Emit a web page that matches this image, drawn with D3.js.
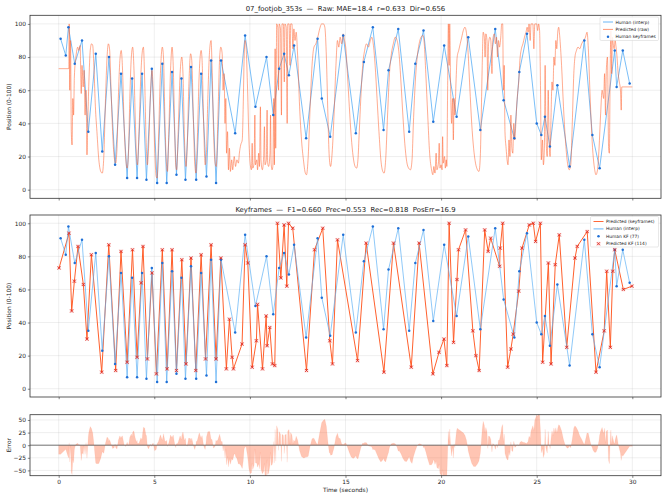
<!DOCTYPE html>
<html><head><meta charset="utf-8">
<script src="https://cdn.jsdelivr.net/npm/d3@7"></script>
<style>body{margin:0;background:#fff} text{font-family:"DejaVu Sans",sans-serif}</style>
</head><body><svg id="c" width="666" height="500"></svg>
<script>
// ---------------- DATA ----------------
const chartTitle = "07_footjob_353s  —  Raw: MAE=18.4  r=0.633  Dir=0.656";
const kfTitle = "Keyframes  —  F1=0.660  Prec=0.553  Rec=0.818  PosErr=16.9";
const xTicks = [0,5,10,15,20,25,30];
const posTicks = [0,20,40,60,80,100];
const errTicks = [-50,-25,0,25,50];

const humanT = [0.10,0.37,0.51,0.84,1.22,1.55,1.94,2.28,2.63,2.95,3.26,3.58,3.84,4.10,4.36,4.59,4.87,5.15,5.42,5.65,5.93,6.16,6.42,6.63,6.92,7.19,7.45,7.73,7.97,8.23,8.49,9.23,9.75,10.29,10.87,11.22,11.53,11.79,12.04,12.31,12.94,13.54,13.76,14.20,14.88,15.54,15.96,16.43,16.99,17.25,17.76,18.33,18.65,19.08,19.59,20.16,20.81,21.42,22.05,22.83,23.27,23.83,24.09,24.49,25.00,25.24,25.43,25.69,26.08,26.72,27.49,27.91,28.29,29.08,29.18,29.50,29.86];
const humanV = [91,81,98,76,90,35,82,23,80,15,70,7,67,7,70,6,73,4,76,4,71,9,67,6,74,6,70,8,78,4,78,34,93,50,80,45,73,82,69,87,31,91,55,32,93,34,77,98,36,72,97,35,76,96,41,87,44,92,36,97,54,31,71,94,40,33,44,26,63,14,90,33,13,84,62,84,64];

const predT = [0.02,0.54,0.68,0.82,1.01,1.29,1.48,1.71,2.25,2.62,2.98,3.26,3.58,3.86,4.10,4.31,4.41,4.64,4.88,5.11,5.42,5.67,5.93,6.16,6.44,6.66,6.92,7.17,7.45,7.68,7.97,8.23,8.48,8.77,8.93,9.07,9.14,9.59,9.75,9.89,10.12,10.34,10.40,10.66,10.85,10.90,11.04,11.18,11.30,11.44,11.62,11.79,11.93,12.02,12.24,12.96,13.38,13.81,14.18,14.32,14.58,15.63,16.08,17.01,17.51,18.44,18.85,19.57,19.89,20.15,20.30,20.42,20.65,20.83,20.91,21.28,21.66,21.82,21.99,22.28,22.46,22.59,23.06,23.09,23.22,23.48,23.65,23.77,24.06,24.23,24.61,24.82,24.94,25.19,25.31,25.61,25.75,25.97,26.18,26.57,27.00,27.12,27.64,28.10,28.53,28.66,28.85,28.98,29.08,29.53,29.98];
const predV = [73,94,47,65,86,63,30,81,10,87,11,83,16,84,19,64,86,18,70,9,84,12,84,11,78,15,79,11,81,18,87,18,79,12,42,19,12,27,87,76,13,29,51,12,44,26,37,15,14,100,67,99,62,100,97,11,84,97,29,15,90,17,88,10,88,13,88,9,22,30,14,100,28,66,84,96,35,20,11,96,83,91,74,85,100,13,24,33,59,85,99,100,89,100,16,76,15,75,93,25,79,86,95,10,35,71,25,71,84,60,62];

// raw model output [time, position]
const rawPoints = [
[0,73],[0.53,73],[0.55,100],[0.58,60],[0.62,90],[0.66,35],[0.70,27],[0.74,55],[0.78,45],[0.82,68],[0.90,80],[1.0,86],
[1.05,84],[1.12,87],[1.18,58],[1.22,75],[1.28,62],[1.33,72],[1.38,45],[1.43,60],[1.48,21],[1.52,40],[1.58,65],[1.65,84],[1.72,88],[1.78,87],[1.85,72],[1.92,50],
[2.0,35],[2.1,18],[2.2,11],[2.28,10],[2.36,20],[2.45,55],[2.53,80],[2.6,88],[2.66,85],[2.74,60],[2.82,35],[2.9,20],[2.98,16],
[3.05,25],[3.12,55],[3.2,78],[3.27,84],[3.33,75],[3.42,40],[3.5,20],[3.58,13],[3.65,22],[3.72,55],[3.8,80],[3.87,86],[3.93,75],
[4.0,45],[4.07,20],[4.12,15],[4.2,35],[4.3,70],[4.38,84],[4.43,86],[4.5,65],[4.57,30],[4.64,15],[4.7,25],[4.8,58],[4.88,72],[4.94,60],
[5.02,25],[5.1,8],[5.15,7],[5.22,30],[5.32,70],[5.42,86],[5.48,80],[5.56,40],[5.64,15],[5.69,11],[5.76,35],[5.85,72],[5.93,86],[5.99,75],
[6.06,40],[6.12,15],[6.17,12],[6.25,35],[6.35,70],[6.44,80],[6.5,70],[6.58,30],[6.66,14],[6.72,25],[6.8,60],[6.9,82],[6.96,78],
[7.05,40],[7.12,15],[7.18,10],[7.25,30],[7.35,70],[7.45,84],[7.5,78],[7.58,40],[7.66,15],[7.72,20],[7.8,55],[7.9,85],[7.97,90],[8.02,75],
[8.1,35],[8.18,16],[8.24,14],[8.32,40],[8.42,80],[8.48,86],[8.55,82],[8.6,60],[8.65,70],[8.7,40],[8.74,55],[8.78,22],[8.83,35],[8.88,12],[8.93,25],[8.98,11],
[9.05,18],[9.1,12],[9.18,20],[9.25,14],[9.32,18],[9.4,16],[9.45,22],[9.52,27],[9.6,30],[9.65,50],[9.7,80],[9.75,90],[9.8,86],[9.88,60],[9.95,30],
[10.02,15],[10.08,12],[10.12,28],[10.15,13],[10.22,16],[10.26,45],[10.29,15],[10.36,18],[10.4,12],[10.46,22],[10.5,14],[10.55,50],[10.58,18],[10.65,12],[10.72,20],[10.76,38],[10.79,15],[10.86,18],[10.9,48],[10.93,16],[10.98,14],
[11.05,22],[11.08,45],[11.11,16],[11.16,12],[11.2,14],[11.25,55],[11.28,15],[11.32,85],[11.35,25],[11.38,70],
[11.4,100],[11.46,98],[11.5,60],[11.53,100],[11.6,97],[11.65,45],[11.68,100],[11.75,100],[11.8,65],[11.83,100],[11.9,98],[11.95,40],[11.98,100],[12.05,100],[12.1,75],[12.13,100],[12.2,100],[12.25,85],[12.3,97],[12.36,90],[12.42,95],
[12.5,80],[12.6,50],[12.7,30],[12.8,18],[12.9,10],[12.96,9],[13.05,20],[13.15,50],[13.25,75],[13.35,86],[13.45,88],[13.55,92],[13.65,97],[13.75,100],[13.85,100],[13.92,98],[14.0,80],[14.08,45],[14.15,20],[14.22,14],
[14.3,22],[14.4,45],[14.5,75],[14.58,90],[14.65,86],[14.72,92],[14.8,88],[14.88,94],[14.95,90],[15.02,85],[15.1,70],[15.2,50],[15.3,32],[15.4,20],[15.5,14],[15.58,13],[15.65,18],[15.72,35],[15.8,55],[15.9,75],[16.0,84],[16.1,88],
[16.2,86],[16.3,90],[16.38,92],[16.45,88],[16.55,75],[16.65,55],[16.75,35],[16.85,18],[16.95,11],[17.02,10],[17.1,18],[17.2,45],[17.3,70],[17.4,82],[17.5,88],
[17.6,92],[17.7,90],[17.8,82],[17.9,65],[18.0,45],[18.1,28],[18.2,17],[18.3,13],[18.4,12],[18.48,18],[18.55,40],[18.65,65],[18.75,80],[18.85,88],[18.95,92],[19.05,93],[19.12,88],[19.2,70],
[19.3,45],[19.4,22],[19.5,12],[19.57,9],[19.62,14],[19.68,10],[19.74,22],[19.78,12],[19.86,16],[19.9,28],[19.94,13],[20.0,15],[20.05,12],[20.08,32],[20.11,16],[20.18,20],[20.22,13],[20.27,18],[20.3,14],
[20.34,60],[20.38,100],[20.42,75],[20.45,100],[20.5,60],[20.55,40],[20.6,55],[20.64,30],[20.68,55],[20.72,45],[20.78,65],[20.84,80],[20.92,84],[21.0,88],[21.08,92],[21.16,96],[21.25,98],[21.32,95],
[21.4,85],[21.5,62],[21.6,40],[21.7,25],[21.8,16],[21.9,12],[21.98,11],[22.05,20],
[22.1,45],[22.15,75],[22.2,95],[22.26,92],[22.3,80],[22.34,94],[22.4,90],[22.44,60],[22.48,88],[22.55,92],[22.6,90],[22.66,70],[22.7,90],[22.78,94],[22.84,88],[22.9,92],[22.95,80],[23.0,90],[23.05,86],[23.12,92],[23.17,100],[23.22,100],[23.26,60],
[23.3,75],[23.34,35],[23.4,25],[23.45,18],[23.5,15],[23.55,30],[23.6,20],[23.65,45],[23.7,25],[23.75,22],[23.8,40],[23.85,30],[23.9,38],[23.95,50],
[24.0,58],[24.06,65],[24.12,78],[24.2,85],[24.28,88],[24.36,92],[24.44,95],[24.5,98],[24.55,95],[24.6,100],[24.66,90],[24.7,100],[24.8,100],[24.85,85],[24.9,100],[25.0,100],[25.05,96],[25.1,100],[25.15,96],
[25.2,60],[25.24,18],[25.3,30],[25.35,15],[25.4,25],[25.44,75],[25.48,35],[25.55,20],[25.6,60],[25.65,30],[25.7,20],[25.75,45],[25.8,65],[25.85,60],[25.9,80],[25.95,75],[26.0,90],[26.05,85],[26.1,95],[26.15,98],[26.2,93],
[26.3,75],[26.4,50],[26.5,30],[26.6,17],[26.7,12],[26.78,15],[26.86,40],[26.94,70],[27.0,80],
[27.08,84],[27.16,86],[27.25,85],[27.35,88],[27.45,90],[27.55,92],[27.63,95],[27.7,85],[27.78,60],[27.86,38],[27.94,22],[28.02,13],[28.1,9],[28.18,12],
[28.26,25],[28.34,45],[28.42,60],[28.5,55],[28.55,70],[28.6,45],[28.64,72],[28.7,80],[28.76,25],[28.8,22],[28.84,70],[28.88,96],[28.92,70],[28.96,92],[29.0,88],[29.05,85],[29.1,90],[29.15,86],[29.2,80],[29.26,70],[29.32,65],[29.38,60],[29.42,48],[29.45,62],
[30.0,62]
];

// ---------------- LAYOUT ----------------
const svg = d3.select("#c");
const L = 30, R = 661;
const x = d3.scaleLinear().domain([-1.5, 31.5]).range([L, R]);
const panels = {
  top: {y: d3.scaleLinear().domain([-5.2, 105.2]).range([198.3, 15.3])},
  mid: {y: d3.scaleLinear().domain([-5, 105]).range([397, 215])},
  bot: {y: d3.scaleLinear().domain([-60.5, 60.5]).range([475.7, 414.7])}
};
const C = {
  human: "#5aaef5", humanKF: "#1f6fd6", raw: "#ff5a26", pred: "#ff5722", predKF: "#e0281f",
  fill: "#ff6e40", grid: "#b0b0b0", spine: "#333", text: "#222"
};

const human = humanT.map((t,i)=>[t, humanV[i]]);
const pred = predT.map((t,i)=>[t, predV[i]]);
const rawT = rawPoints.map(d=>d[0]), rawV = rawPoints.map(d=>d[1]);

function interpClamp(xs, ys, t){
  if (t <= xs[0]) return ys[0];
  if (t >= xs[xs.length-1]) return ys[ys.length-1];
  const i = d3.bisectRight(xs, t);
  const x0 = xs[i-1], x1 = xs[i];
  return ys[i-1] + (ys[i]-ys[i-1])*(t-x0)/(x1-x0);
}
const errT = Array.from(new Set([...rawT, ...humanT])).filter(t=>t>=0 && t<=30).sort((a,b)=>a-b);
const errData = errT.map(t=>[t, interpClamp(rawT, rawV, t) - interpClamp(humanT, humanV, t)]);

// clip paths
const defs = svg.append("defs");
Object.entries(panels).forEach(([k,p])=>{
  const [b,t] = p.y.range();
  defs.append("clipPath").attr("id","clip-"+k).append("rect")
    .attr("x", L).attr("y", t).attr("width", R-L).attr("height", b-t);
});

function frame(key, yTicks, showXLabels){
  const p = panels[key]; const y = p.y;
  const [b,t] = y.range();
  const g = svg.append("g");
  g.selectAll(".gx").data(xTicks).enter().append("line")
    .attr("x1", d=>x(d)).attr("x2", d=>x(d)).attr("y1", t).attr("y2", b)
    .attr("stroke", C.grid).attr("stroke-opacity", 0.35).attr("stroke-width", 0.6);
  g.selectAll(".gy").data(yTicks).enter().append("line")
    .attr("x1", L).attr("x2", R).attr("y1", d=>y(d)).attr("y2", d=>y(d))
    .attr("stroke", C.grid).attr("stroke-opacity", 0.35).attr("stroke-width", 0.6);
  const ax = svg.append("g").attr("transform", `translate(0,${b})`)
    .call(d3.axisBottom(x).tickValues(xTicks).tickSize(2.2).tickPadding(1.5)
      .tickFormat(showXLabels ? d3.format("d") : ""));
  const ay = svg.append("g").attr("transform", `translate(${L},0)`)
    .call(d3.axisLeft(y).tickValues(yTicks).tickSize(2.2).tickPadding(1.8).tickFormat(d3.format("d")));
  [ax, ay].forEach(a=>{
    a.select(".domain").remove();
    a.selectAll("line").attr("stroke", C.spine).attr("stroke-width", 0.6);
    a.selectAll("text").attr("fill", C.text).style("font-size", "5.9px").style("font-family", "DejaVu Sans");
  });
  return {g, y, t, b};
}
function spines(key){
  const [b,t] = panels[key].y.range();
  svg.append("rect").attr("x", L).attr("y", t).attr("width", R-L).attr("height", b-t)
    .attr("fill", "none").attr("stroke", C.spine).attr("stroke-width", 0.8);
}
function markersHuman(g, y){
  g.selectAll(".hk").data(human).enter().append("circle")
    .attr("cx", d=>x(d[0])).attr("cy", d=>y(d[1])).attr("r", 1.25).attr("fill", C.humanKF);
}
function xMark(g, cx, cy, color){
  const s = 1.5;
  g.append("rect").attr("x", cx-1.9).attr("y", cy-1.9).attr("width", 3.8).attr("height", 3.8)
    .attr("fill", color).attr("fill-opacity", 0.18);
  g.append("path").attr("d", `M${cx-s},${cy-s}L${cx+s},${cy+s}M${cx-s},${cy+s}L${cx+s},${cy-s}`)
    .attr("stroke", color).attr("stroke-width", 0.8);
}
function legend(items, x0, y0, w, h){
  const g = svg.append("g");
  g.append("rect").attr("x", x0).attr("y", y0).attr("width", w).attr("height", h).attr("rx", 1.2)
    .attr("fill", "#fff").attr("fill-opacity", 0.85).attr("stroke", "#d0d0d0").attr("stroke-width", 0.5);
  items.forEach((it, i)=>{
    const cy = y0 + 5 + i*7.4;
    const hx = x0 + 3;
    if (it.type === "line") {
      g.append("line").attr("x1", hx).attr("x2", hx+10).attr("y1", cy).attr("y2", cy)
        .attr("stroke", it.color).attr("stroke-width", it.w || 0.9).attr("stroke-opacity", it.op || 1);
    } else if (it.type === "dot") {
      g.append("circle").attr("cx", hx+5).attr("cy", cy).attr("r", 1.25).attr("fill", it.color);
    } else if (it.type === "x") {
      xMark(g, hx+5, cy, it.color);
    }
    g.append("text").attr("x", hx+12.5).attr("y", cy).attr("dy", "0.35em")
      .attr("fill", C.text).style("font-size", "4.4px").text(it.label);
  });
}

// ---------------- TOP PANEL ----------------
{
  const f = frame("top", posTicks, false);
  const y = f.y;
  const pg = svg.append("g").attr("clip-path", "url(#clip-top)");
  pg.append("path").datum(human)
    .attr("d", d3.line().x(d=>x(d[0])).y(d=>y(d[1])))
    .attr("fill", "none").attr("stroke", C.human).attr("stroke-width", 0.9).attr("stroke-opacity", 0.9);
  pg.append("path").datum(rawPoints)
    .attr("d", d3.line().x(d=>x(d[0])).y(d=>y(d[1])).curve(d3.curveMonotoneX))
    .attr("fill", "none").attr("stroke", C.raw).attr("stroke-width", 0.85).attr("stroke-opacity", 0.6);
  markersHuman(pg, y);
  spines("top");
  svg.append("text").attr("x", (L+R)/2).attr("y", 11).attr("text-anchor", "middle")
    .style("white-space", "pre").attr("fill", C.text).style("font-size", "6.9px").text(chartTitle);
  svg.append("text").attr("transform", `translate(10.5,${(f.t+f.b)/2}) rotate(-90)`)
    .attr("text-anchor", "middle").attr("fill", C.text).style("font-size", "5.9px").text("Position (0-100)");
  legend([
    {type:"line", color:C.human, label:"Human (interp)"},
    {type:"line", color:C.raw, op:0.7, label:"Predicted (raw)"},
    {type:"dot", color:C.humanKF, label:"Human keyframes"}
  ], 600, 17, 58.5, 23.5);
}

// ---------------- MIDDLE PANEL ----------------
{
  const f = frame("mid", posTicks, false);
  const y = f.y;
  const pg = svg.append("g").attr("clip-path", "url(#clip-mid)");
  pg.append("path").datum(pred)
    .attr("d", d3.line().x(d=>x(d[0])).y(d=>y(d[1])))
    .attr("fill", "none").attr("stroke", C.pred).attr("stroke-width", 0.95);
  pg.append("path").datum(human)
    .attr("d", d3.line().x(d=>x(d[0])).y(d=>y(d[1])))
    .attr("fill", "none").attr("stroke", C.human).attr("stroke-width", 0.9).attr("stroke-opacity", 0.75);
  markersHuman(pg, y);
  pred.forEach(d=>xMark(pg, x(d[0]), y(d[1]), C.predKF));
  spines("mid");
  svg.append("text").attr("x", (L+R)/2).attr("y", 211.5).attr("text-anchor", "middle")
    .style("white-space", "pre").attr("fill", C.text).style("font-size", "6.9px").text(kfTitle);
  svg.append("text").attr("transform", `translate(10.5,${(f.t+f.b)/2}) rotate(-90)`)
    .attr("text-anchor", "middle").attr("fill", C.text).style("font-size", "5.9px").text("Position (0-100)");
  legend([
    {type:"line", color:C.pred, label:"Predicted (keyframes)"},
    {type:"line", color:C.human, label:"Human (interp)"},
    {type:"dot", color:C.humanKF, label:"Human KF (77)"},
    {type:"x", color:C.predKF, label:"Predicted KF (114)"}
  ], 590.5, 216.5, 68, 30.5);
}

// ---------------- BOTTOM PANEL ----------------
{
  const f = frame("bot", errTicks, true);
  const y = f.y;
  const pg = svg.append("g").attr("clip-path", "url(#clip-bot)");
  pg.append("path").datum(errData)
    .attr("d", d3.area().x(d=>x(d[0])).y0(y(0)).y1(d=>y(d[1])))
    .attr("fill", C.fill).attr("fill-opacity", 0.4).attr("stroke", C.fill).attr("stroke-opacity", 0.25).attr("stroke-width", 0.3);
  svg.append("line").attr("x1", L).attr("x2", R).attr("y1", y(0)).attr("y2", y(0))
    .attr("stroke", "#555").attr("stroke-width", 0.8);
  spines("bot");
  svg.append("text").attr("transform", `translate(10.5,${(f.t+f.b)/2}) rotate(-90)`)
    .attr("text-anchor", "middle").attr("fill", C.text).style("font-size", "5.9px").text("Error");
  svg.append("text").attr("x", (L+R)/2).attr("y", 492).attr("text-anchor", "middle")
    .attr("fill", C.text).style("font-size", "5.9px").text("Time (seconds)");
}
</script></body></html>
